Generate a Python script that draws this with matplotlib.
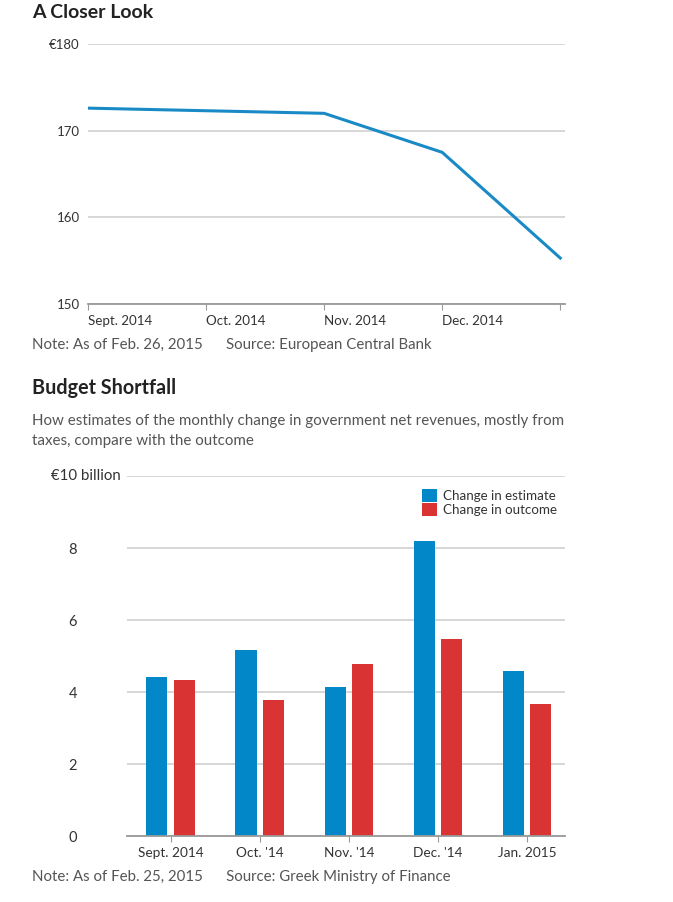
import matplotlib.pyplot as plt
import numpy as np

plt.rcParams['font.family'] = ['Lato', 'DejaVu Sans']

# Top chart: A Closer Look
months_top = ['Sept. 2014', 'Oct. 2014', 'Nov. 2014', 'Dec. 2014', '']
values_top = [172.6, 172.3, 172.0, 167.5, 155.3]

# Bottom chart: Budget Shortfall
months_bar = ['Sept. 2014', "Oct. '14", "Nov. '14", "Dec. '14", 'Jan. 2015']
estimate = [4.42, 5.17, 4.14, 8.19, 4.58]
outcome = [4.33, 3.78, 4.78, 5.47, 3.67]

blue = '#0288c8'
red = '#d93333'
grid_c = '#d4d4d4'
axis_c = '#999999'
text_c = '#333333'
note_c = '#555555'

fig = plt.figure(figsize=(6.73, 9.02), dpi=100)

# ---- top line chart
ax1 = fig.add_axes([88/673, 1-304/902, 477/673, 260/902])
x = np.arange(len(values_top))
ax1.plot(x, values_top, color='#1a8ac6', lw=2.2, solid_joinstyle='miter')
ax1.set_xlim(0, 4.04)
ax1.set_ylim(150, 180)
ax1.set_yticks([150, 160, 170, 180])
ax1.set_yticklabels(['150', '160', '170', '€180'])
ax1.set_xticks(x)
ax1.set_xticklabels(months_top, ha='left')
ax1.grid(axis='y', color=grid_c, lw=1.3)
ax1.set_axisbelow(True)
for s in ['top', 'right', 'left']:
    ax1.spines[s].set_visible(False)
ax1.spines['bottom'].set_color(axis_c)
ax1.spines['bottom'].set_linewidth(1.3)
ax1.tick_params(axis='y', length=0, pad=6, labelsize=9.5, labelcolor=text_c)
ax1.tick_params(axis='x', length=4, color=axis_c, pad=4, labelsize=9.6, labelcolor=text_c)

fig.text(32/673, 1-13/902, 'A Closer Look', fontsize=14, fontweight='bold',
         color='#222222', va='center')
fig.text(32/673, 1-345/902, 'Note: As of Feb. 26, 2015      Source: European Central Bank',
         fontsize=10.8, color=note_c, va='center')

# ---- bottom bar chart
fig.text(32/673, 1-388/902, 'Budget Shortfall', fontsize=14.2, fontweight='bold',
         color='#222222', va='center')
fig.text(32/673, 1-431/902,
         'How estimates of the monthly change in government net revenues, mostly from\n'
         'taxes, compare with the outcome',
         fontsize=10.9, color=note_c, va='center', linespacing=1.55)

ax2 = fig.add_axes([127/673, 1-836/902, 438/673, 360/902])
xb = np.arange(len(months_bar))
w = 0.236
ax2.bar(xb - 0.157, estimate, width=w, color=blue, label='Change in estimate')
ax2.bar(xb + 0.157, outcome, width=w, color=red, label='Change in outcome')
ax2.set_xlim(-0.494, 4.427)
ax2.set_ylim(0, 10)
ax2.set_yticks([0, 2, 4, 6, 8, 10])
ax2.set_yticklabels(['0', '2', '4', '6', '8', ''])
ax2.set_xticks(xb)
ax2.set_xticklabels(months_bar)
ax2.grid(axis='y', color=grid_c, lw=1.3)
ax2.set_axisbelow(True)
for s in ['top', 'right', 'left']:
    ax2.spines[s].set_visible(False)
ax2.spines['bottom'].set_color(axis_c)
ax2.spines['bottom'].set_linewidth(1.3)
ax2.tick_params(axis='y', length=0, pad=36, labelsize=10.5, labelcolor=text_c)
ax2.tick_params(axis='x', length=4, color=axis_c, pad=4, labelsize=9.8, labelcolor=text_c)
ax2.text(-6/438, 10, '€10 billion', transform=ax2.get_yaxis_transform(),
         ha='right', va='center', fontsize=10.8, color=text_c)
ax2.legend(loc='upper right', bbox_to_anchor=(1.0, 0.985), frameon=False,
           handlelength=1.1, handleheight=1.1, handletextpad=0.45,
           labelspacing=0.05, fontsize=9.6, labelcolor=text_c, borderaxespad=0.2)

fig.text(32/673, 1-877/902, 'Note: As of Feb. 25, 2015      Source: Greek Ministry of Finance',
         fontsize=10.8, color=note_c, va='center')

fig.savefig('out.png', dpi=100, facecolor='white')
